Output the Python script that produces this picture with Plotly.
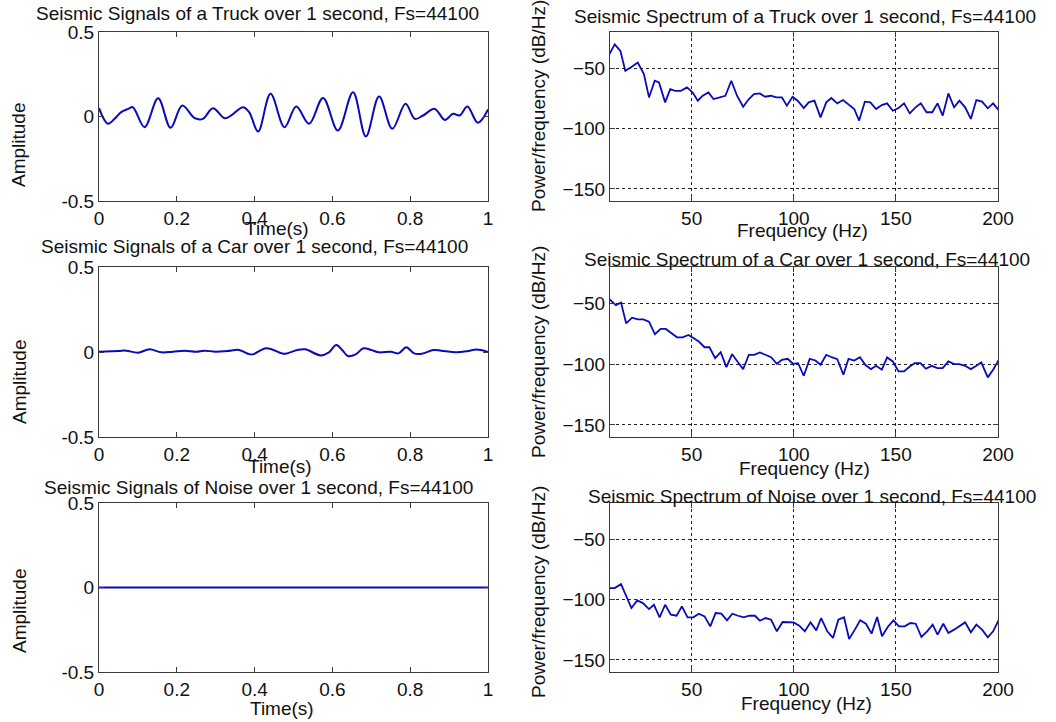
import plotly.graph_objects as go

# ---------------- data ----------------
truck_t = [0.0, 0.023, 0.04, 0.057, 0.075, 0.087, 0.117, 0.152, 0.184, 0.214, 0.246, 0.267,
           0.293, 0.323, 0.34, 0.37, 0.386, 0.409, 0.441, 0.477, 0.507, 0.54, 0.576, 0.614,
           0.653, 0.686, 0.72, 0.754, 0.788, 0.812, 0.833, 0.863, 0.889, 0.91, 0.927, 0.947,
           0.974, 1.0]
truck_amp = [0.049, -0.043, -0.014, 0.026, 0.045, 0.055, -0.063, 0.108, -0.067, 0.065, -0.010, -0.014,
             0.049, -0.010, 0.006, 0.055, 0.026, -0.089, 0.134, -0.063, 0.059, -0.043, 0.110, -0.083,
             0.144, -0.118, 0.118, -0.073, 0.075, -0.014, 0.006, 0.045, -0.020, 0.016, 0.006, 0.059,
             -0.037, 0.041]

car_t = [0.0, 0.05, 0.07, 0.10, 0.13, 0.16, 0.19, 0.22, 0.25, 0.27, 0.30, 0.33, 0.36, 0.385, 0.395,
         0.43, 0.47, 0.48, 0.51, 0.53, 0.57, 0.59, 0.61, 0.625, 0.64, 0.66, 0.68, 0.70, 0.72, 0.75,
         0.77, 0.79, 0.81, 0.83, 0.86, 0.88, 0.92, 0.95, 0.97, 1.0]
car_amp = [0.002, 0.006, 0.008, -0.004, 0.016, -0.002, 0.002, 0.008, 0.002, 0.008, 0.002, 0.006, 0.012,
           -0.012, -0.014, 0.022, -0.008, -0.010, 0.012, 0.016, -0.020, -0.004, 0.041, 0.012, -0.024,
           -0.014, 0.022, 0.012, -0.002, 0.002, -0.008, 0.028, -0.008, -0.010, 0.012, 0.008, -0.002,
           0.006, 0.014, 0.0]

noise_t = [0.0, 0.25, 0.5, 0.75, 1.0]
noise_amp = [0.0, 0.0, 0.0, 0.0, 0.0]

truck_f = [9.3, 12.3, 15.1, 17.5, 20.5, 23.6, 26.6, 29.1, 31.9, 34.0, 37.0, 39.5, 41.9, 44.7, 47.7,
           50.5, 53.0, 55.4, 58.2, 60.7, 63.7, 66.5, 69.4, 72.2, 75.2, 78.0, 80.5, 83.4, 85.9, 88.7,
           91.4, 94.2, 96.6, 99.4, 101.9, 104.9, 107.3, 110.1, 113.1, 115.9, 118.4, 121.3, 124.1,
           126.6, 129.6, 132.0, 134.8, 137.5, 140.3, 143.1, 145.7, 148.5, 151.3, 154.0, 156.8,
           159.6, 162.2, 165.0, 167.8, 170.4, 172.9, 175.7, 178.5, 181.1, 183.9, 186.7, 189.4,
           192.2, 195.0, 197.6, 200.6]
truck_psd = [-39.8, -30.2, -35.7, -52.2, -48.9, -45.3, -54.9, -74.2, -60.4, -61.8, -78.3, -67.3, -68.7,
             -68.7, -65.9, -70.1, -76.9, -72.8, -70.1, -75.5, -74.2, -72.8, -60.4, -72.8, -81.9, -75.5,
             -71.4, -70.9, -73.6, -72.8, -74.2, -74.2, -81.0, -73.6, -76.9, -83.0, -78.3, -76.9, -90.7,
             -78.3, -74.7, -79.1, -76.4, -79.7, -83.8, -93.4, -77.7, -78.3, -83.8, -80.5, -79.1, -85.2,
             -83.0, -79.1, -87.4, -82.4, -79.1, -86.5, -86.5, -79.1, -89.3, -70.9, -82.4, -76.9, -82.4,
             -92.0, -76.4, -77.7, -83.2, -79.1, -85.2]

car_f = [9.3, 11.4, 12.9, 15.4, 17.9, 20.8, 23.6, 26.3, 29.1, 32.0, 34.8, 37.3, 40.1, 42.8, 45.6,
         48.4, 51.0, 53.5, 56.3, 58.7, 61.5, 64.2, 67.0, 69.8, 72.4, 75.2, 78.0, 80.6, 83.4, 86.2,
         88.9, 91.7, 94.2, 97.0, 99.6, 102.1, 104.9, 107.8, 110.6, 113.1, 115.9, 118.5, 121.3,
         124.3, 126.8, 129.6, 132.4, 135.0, 137.8, 140.3, 143.1, 145.7, 148.5, 151.3, 154.0,
         156.8, 159.2, 162.0, 164.7, 167.5, 170.3, 172.9, 175.7, 178.5, 181.1, 183.9, 186.7,
         189.4, 191.8, 195.0, 197.6, 200.6]
car_psd = [-45.9, -49.5, -51.4, -49.2, -66.4, -61.7, -63.1, -63.1, -65.0, -75.4, -71.0, -71.0, -74.6,
           -77.9, -77.9, -76.0, -78.7, -81.4, -86.1, -86.1, -95.1, -90.2, -102.5, -91.8, -97.8, -104.1,
           -92.3, -92.3, -90.4, -92.3, -94.3, -99.7, -96.4, -95.6, -99.7, -99.2, -109.6, -95.6, -97.0,
           -100.5, -92.3, -94.3, -95.9, -108.7, -95.6, -97.0, -94.3, -100.5, -104.1, -101.4, -104.6,
           -94.5, -97.8, -106.0, -106.0, -101.9, -99.2, -99.2, -103.8, -101.4, -103.3, -103.3, -97.8,
           -100.0, -100.0, -101.4, -104.1, -101.4, -98.6, -110.9, -104.6, -95.9]

noise_f = [9.3, 12.3, 15.4, 18.0, 20.5, 23.3, 26.1, 29.1, 31.5, 34.3, 37.0, 39.8, 42.6, 45.2, 48.0,
           50.8, 53.5, 56.3, 59.1, 61.7, 64.5, 67.3, 69.9, 72.7, 75.5, 78.2, 81.0, 83.4, 86.2, 88.9,
           91.7, 94.5, 97.1, 99.9, 102.7, 105.4, 108.2, 111.0, 113.4, 116.4, 119.2, 121.8, 124.6,
           127.1, 129.9, 132.5, 135.3, 138.1, 140.8, 143.2, 146.0, 148.8, 151.5, 154.3, 157.1,
           159.7, 162.5, 165.3, 168.0, 170.4, 173.2, 175.7, 178.5, 181.1, 183.9, 186.7, 189.4,
           192.2, 195.0, 197.6, 200.6]
noise_psd = [-90.5, -90.5, -87.2, -97.9, -107.0, -100.7, -102.9, -107.9, -104.3, -114.7, -104.3, -112.5,
             -113.4, -105.6, -114.7, -114.7, -111.7, -113.9, -122.2, -111.2, -111.7, -117.2, -111.7,
             -113.4, -114.7, -113.4, -113.4, -117.5, -115.3, -116.7, -126.3, -118.6, -118.6, -118.9,
             -121.6, -126.3, -118.9, -125.5, -115.3, -126.3, -131.8, -116.7, -114.7, -132.6, -124.9,
             -117.2, -120.0, -128.2, -114.5, -130.4, -122.7, -117.2, -122.2, -122.2, -119.4, -120.0,
             -131.0, -126.3, -120.8, -129.1, -120.0, -127.7, -124.9, -122.2, -118.9, -127.1, -120.8,
             -124.9, -131.3, -126.3, -116.1]

time_ticks = [0, 0.2, 0.4, 0.6, 0.8, 1]
time_ticktext = ["0", "0.2", "0.4", "0.6", "0.8", "1"]
amp_ticks = [-0.5, 0, 0.5]
amp_ticktext = ["-0.5", "0", "0.5"]
freq_ticks = [50, 100, 150, 200]
psd_ticks = [-150, -100, -50]

left_titles = ["Seismic Signals of a Truck over 1 second, Fs=44100",
               "Seismic Signals of a Car over 1 second, Fs=44100",
               "Seismic Signals of Noise over 1 second, Fs=44100"]
right_titles = ["Seismic Spectrum of a Truck over 1 second, Fs=44100",
                "Seismic Spectrum of a Car over 1 second, Fs=44100",
                "Seismic Spectrum of Noise over 1 second, Fs=44100"]

# ---------------- layout helpers ----------------
W, H = 1056, 722
FONT = "Liberation Sans, Arial, Helvetica, sans-serif"
FS = 19
TXT = "#111111"
LINE = "#0a0ab8"
FRAME = "#3a3a3a"

def px_x(p):
    return p / W

def px_y(p):
    return 1 - p / H

left_dom = [px_x(99), px_x(488)]
right_dom = [px_x(610), px_x(998)]
row_px = [(32, 201), (267, 437), (503, 672)]

fig = go.Figure()

series_left = [(truck_t, truck_amp, "spline"), (car_t, car_amp, "spline"), (noise_t, noise_amp, "linear")]
series_right = [(truck_f, truck_psd), (car_f, car_psd), (noise_f, noise_psd)]

layout = dict(width=W, height=H, margin=dict(l=0, r=0, t=0, b=0), showlegend=False,
              paper_bgcolor="white", plot_bgcolor="white",
              font=dict(family=FONT, size=FS, color=TXT))

common_axis = dict(showline=True, linecolor=FRAME, linewidth=1, mirror="ticks", ticks="inside",
                   ticklen=5, tickcolor=FRAME, zeroline=False, automargin=False,
                   tickfont=dict(family=FONT, size=FS, color=TXT))

for i in range(3):
    top, bot = row_px[i]
    ydom = [px_y(bot), px_y(top)]
    # left
    ax = 2 * i + 1
    xs, ys, shape = series_left[i]
    fig.add_trace(go.Scatter(x=xs, y=ys, mode="lines", line=dict(color=LINE, width=2, shape=shape, smoothing=1.0),
                             xaxis=f"x{ax}", yaxis=f"y{ax}"))
    layout[f"xaxis{ax}"] = dict(common_axis, domain=left_dom, anchor=f"y{ax}", range=[0, 1],
                                tickvals=time_ticks, ticktext=time_ticktext, showgrid=False)
    layout[f"yaxis{ax}"] = dict(common_axis, domain=ydom, anchor=f"x{ax}", range=[-0.5, 0.5],
                                tickvals=amp_ticks, ticktext=amp_ticktext, showgrid=False)
    # right
    ax2 = 2 * i + 2
    fx, fy = series_right[i]
    fig.add_trace(go.Scatter(x=fx, y=fy, mode="lines", line=dict(color=LINE, width=1.8),
                             xaxis=f"x{ax2}", yaxis=f"y{ax2}"))
    layout[f"xaxis{ax2}"] = dict(common_axis, domain=right_dom, anchor=f"y{ax2}", range=[10, 200],
                                 tickvals=freq_ticks, showgrid=True, gridcolor="#222222", gridwidth=1,
                                 griddash="dot")
    layout[f"yaxis{ax2}"] = dict(common_axis, domain=ydom, anchor=f"x{ax2}", range=[-160, -20],
                                 tickvals=psd_ticks, showgrid=True, gridcolor="#222222", gridwidth=1,
                                 griddash="dot")

annotations = []

def add_text(text, x, y, angle=0):
    annotations.append(dict(text=text, x=px_x(x), y=px_y(y), xref="paper", yref="paper",
                            xanchor="center", yanchor="middle", showarrow=False, textangle=angle,
                            font=dict(family=FONT, size=FS, color=TXT)))

left_title_pos = [(257, 13), (254, 247), (258, 487)]
right_title_pos = [(805, 17), (807, 259), (812, 496)]
time_label_pos = [(277, 229), (280, 466), (282, 708)]
freq_label_pos = [(802, 231), (804, 468), (806, 703)]
amp_label_pos = [(19, 145), (19, 382), (19, 611)]
psd_label_pos = [(538, 106), (538, 352), (538, 592)]

for i in range(3):
    add_text(left_titles[i], *left_title_pos[i])
    add_text(right_titles[i], *right_title_pos[i])
    add_text("Time(s)", *time_label_pos[i])
    add_text("Frequency (Hz)", *freq_label_pos[i])
    add_text("Amplitude", *amp_label_pos[i], angle=-90)
    add_text("Power/frequency (dB/Hz)", *psd_label_pos[i], angle=-90)

layout["annotations"] = annotations
fig.update_layout(**layout)

fig.write_html("out.html")
